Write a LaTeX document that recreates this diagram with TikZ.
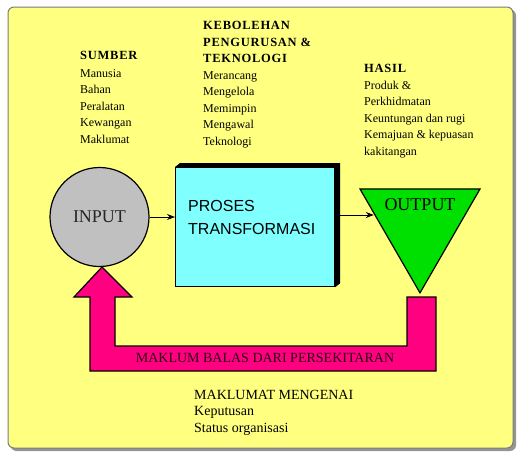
\documentclass[tikz,border=0pt]{standalone}
\usepackage{fontspec}
\setmainfont{Liberation Serif}
\newfontfamily\arialfont{Liberation Sans}
\newfontfamily\hdrfont{Liberation Serif}[LetterSpace=6]
\usetikzlibrary{shapes.geometric,arrows.meta,calc}
\definecolor{bgyellow}{HTML}{FFFF80}
\definecolor{procyan}{HTML}{80FFFF}
\definecolor{outgreen}{HTML}{00E000}
\definecolor{fbpink}{HTML}{FF0080}
\definecolor{incirc}{HTML}{C0C0C0}
\definecolor{fbtext}{HTML}{2A0012}
\definecolor{frame}{HTML}{7A7A7A}
\begin{document}
\begin{tikzpicture}[x=1pt,y=-1pt,
  hdr/.style={font=\hdrfont\bfseries\fontsize{12.5}{14}\selectfont, anchor=base west, inner sep=0},
  body/.style={font=\fontsize{12}{14}\selectfont, anchor=base west, inner sep=0},
  big/.style={font=\fontsize{14}{16}\selectfont, anchor=base west, inner sep=0},
  outline/.style={draw=black, line width=1.2pt},
  flow/.style={-{Stealth[length=8pt,width=6pt]}, line width=1pt}]
\useasboundingbox (0,0) rectangle (520,459);
% background card
\fill[frame!80, rounded corners=6pt] (10.5,9.5) rectangle (516,451);
\filldraw[fill=bgyellow, draw=frame, line width=1pt, rounded corners=6pt] (8,7) rectangle (513,448);

% INPUT circle
\node[circle, outline, fill=incirc, minimum size=99pt, inner sep=0,
      font=\fontsize{18}{20}\selectfont, text=black!85] (input) at (99.5,217) {INPUT};

% process box with 3D edge
\node[rectangle, outline, fill=procyan, minimum width=159pt, minimum height=119pt,
      inner sep=0, anchor=north west] (proses) at (175,167) {};
\fill (proses.north west) -- ++(5,-4) -- ([shift={(5,-4)}]proses.north east)
      -- ([shift={(5,-4)}]proses.south east) -- (proses.south east)
      -- (proses.north east) -- cycle;
\node[font=\arialfont\fontsize{16}{18}\selectfont, anchor=base west, inner sep=0]
      (prosesa) at (188,211) {PROSES};
\node[font=\arialfont\fontsize{16}{18}\selectfont, anchor=base west, inner sep=0]
      (prosesb) at (188,234) {TRANSFORMASI};

% OUTPUT triangle
\node[regular polygon, regular polygon sides=3, shape border rotate=180, outline,
      fill=outgreen, minimum size=138.6pt, inner sep=0] (output) at (420,223.6) {};
\node[font=\fontsize{18}{20}\selectfont] (outlbl) at (420,205) {OUTPUT};

% flow arrows
\draw[flow] (input.east) -- (input.east -| proses.west);
\draw[flow] ([xshift=4pt]proses.east |- 0,215) -- ([xshift=-5.5pt]output.west |- 0,215);

% feedback block arrow
\filldraw[fill=fbpink, outline] (74,297) -- (102,267) -- (132,297) -- (115,297)
   -- (115,346) -- (407,346) -- (407,297) -- (436,297) -- (436,371)
   -- (90,371) -- (90,297) -- cycle;
\node[font=\fontsize{14}{16}\selectfont, text=fbtext] (fblabel) at (265,358)
   {MAKLUM BALAS DARI PERSEKITARAN};

% SUMBER
\node[hdr] (sumber) at (80,59) {SUMBER};
\foreach \t [count=\i] in {Manusia,Bahan,Peralatan,Kewangan,Maklumat}
  \node[body] (sumber\i) at (80,{77+16.5*(\i-1)}) {\t};

% KEBOLEHAN
\node[hdr] (kebola) at (203,29) {KEBOLEHAN};
\node[hdr] (kebolb) at (203,46) {PENGURUSAN \&};
\node[hdr] (kebolc) at (203,62) {TEKNOLOGI};
\foreach \t [count=\i] in {Merancang,Mengelola,Memimpin,Mengawal,Teknologi}
  \node[body] (kebol\i) at (203,{79+16.5*(\i-1)}) {\t};

% HASIL
\node[hdr] (hasil) at (364,72) {HASIL};
\foreach \t [count=\i] in {Produk \&,Perkhidmatan,Keuntungan dan rugi,Kemajuan \& kepuasan,kakitangan}
  \node[body] (hasil\i) at (364,{89+16.5*(\i-1)}) {\t};

% bottom info
\foreach \t [count=\i] in {MAKLUMAT MENGENAI,Keputusan,Status organisasi}
  \node[big] (info\i) at (194,{399+16.5*(\i-1)}) {\t};
\end{tikzpicture}
\end{document}
